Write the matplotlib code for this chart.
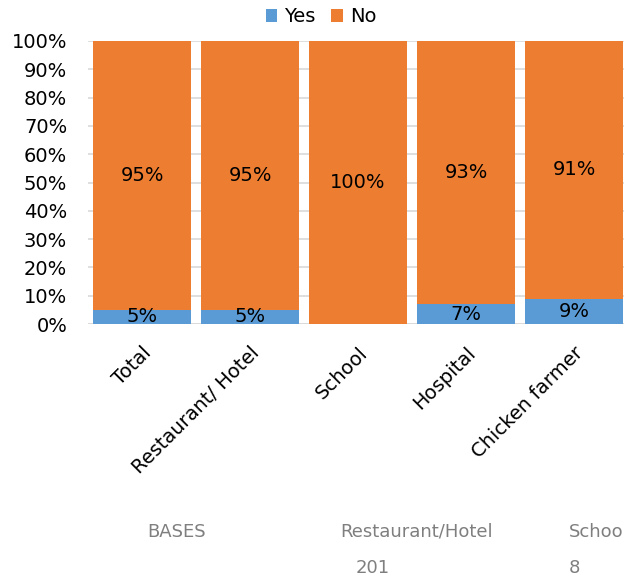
import matplotlib.pyplot as plt
import numpy as np

plt.rcParams['font.family'] = ['DejaVu Sans']

# data
categories = ['Total', 'Restaurant/ Hotel', 'School', 'Hospital', 'Chicken farmer']
yes_pct = [5, 5, 0, 7, 9]
no_pct = [95, 95, 100, 93, 91]
yes_labels = ['5%', '5%', '', '7%', '9%']
no_labels = ['95%', '95%', '100%', '93%', '91%']
base_headers = ['BASES', 'Restaurant/Hotel', 'School']
base_counts = ['', '201', '8']

W, H = 624, 579
fig = plt.figure(figsize=(W / 100, H / 100), dpi=100)
# axes deliberately runs a bit past the right edge (cropped like the original)
ax = fig.add_axes([88 / W, 1 - 324 / H, 540 / W, 283 / H])

x = np.arange(len(categories))
blue, orange = '#5B9BD5', '#ED7D31'
b1 = ax.bar(x, yes_pct, width=0.9, color=blue, label='Yes', zorder=3)
b2 = ax.bar(x, no_pct, width=0.9, bottom=yes_pct, color=orange, label='No', zorder=3)

fs = 14
for i in range(len(x)):
    if yes_labels[i]:
        ax.text(x[i], yes_pct[i] / 2, yes_labels[i], ha='center', va='center',
                fontsize=fs, color='black', zorder=4)
    ax.text(x[i], yes_pct[i] + no_pct[i] / 2, no_labels[i], ha='center', va='center',
            fontsize=fs, color='black', zorder=4)

ax.set_xlim(-0.5, 4.5)
ax.set_ylim(0, 100)
ax.set_yticks(np.arange(0, 101, 10))
ax.set_yticklabels([f'{v}%' for v in range(0, 101, 10)], fontsize=fs)
ax.set_xticks(x)
ax.set_xticklabels(categories, fontsize=fs, rotation=45, ha='right',
                   rotation_mode='anchor')
ax.tick_params(axis='both', length=0)
ax.tick_params(axis='y', pad=15)
ax.tick_params(axis='x', pad=14)
ax.yaxis.grid(True, color='#D9D9D9', linewidth=1.2, zorder=0)
for s in ax.spines.values():
    s.set_visible(False)
ax.axhline(0, color='#D9D9D9', linewidth=1.2, zorder=2)

fig.legend(handles=[b1, b2], labels=['Yes', 'No'], loc='center',
           bbox_to_anchor=(321 / W, 1 - 17 / H), ncol=2, frameon=False,
           fontsize=fs, handlelength=0.6, handleheight=0.6,
           handletextpad=0.35, columnspacing=0.8)

# bases table below the chart
grey = '#7F7F7F'
bfs = 13
head_x = [177, 417, 569]
head_ha = ['center', 'center', 'left']
for t, px, ha in zip(base_headers, head_x, head_ha):
    fig.text(px / W, 1 - 532 / H, t, ha=ha, va='center', fontsize=bfs, color=grey)
count_x = [177, 373, 569]
for t, px in zip(base_counts, count_x):
    if t:
        fig.text(px / W, 1 - 568 / H, t, ha='left' if px == 569 else 'center',
                 va='center', fontsize=bfs, color=grey)

fig.savefig('out.png', dpi=100)
